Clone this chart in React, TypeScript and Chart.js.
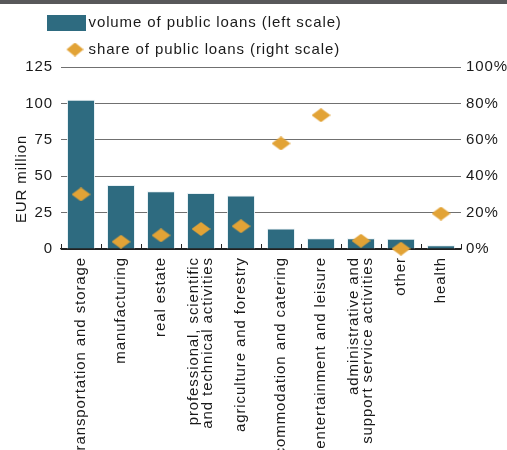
import React, { useEffect, useRef } from 'react';
import { Chart, registerables } from 'chart.js';

Chart.register(...registerables);

const categories: (string | string[])[] = [
  'transportation and storage',
  'manufacturing',
  'real estate',
  ['professional, scientific', 'and technical activities'],
  'agriculture and forestry',
  'accommodation and catering',
  'entertainment and leisure',
  ['administrative and', 'support service activities'],
  'other',
  'health',
];
const volumeValues = [102.5, 44, 39.6, 38.5, 36.8, 14, 7.4, 7.4, 7, 2.5];
const shareValues = [30, 4, 7.5, 11, 12.5, 58, 73.5, 4.5, 0.2, 19.5];
const leftTicks = [0, 25, 50, 75, 100, 125];
const rightTicks = [0, 20, 40, 60, 80, 100];
const seriesNames = ['volume of public loans (left scale)', 'share of public loans (right scale)'];
const yTitle = 'EUR million';

const BAR_COLOR = '#2e6b80';
const DIAMOND_COLOR = '#e2a336';
const TEXT_COLOR = '#1a1a1a';
const FONT = "'Liberation Sans', Arial, sans-serif";
const SPACING = '0.9px';

function makeDiamond(total: number, w: number, h: number, offset: number, color: string) {
  const c = document.createElement('canvas');
  c.width = total;
  c.height = h;
  const g = c.getContext('2d')!;
  g.fillStyle = color;
  g.beginPath();
  g.moveTo(offset, h / 2);
  g.lineTo(offset + w / 2, 0);
  g.lineTo(offset + w, h / 2);
  g.lineTo(offset + w / 2, h);
  g.closePath();
  g.fill();
  return c;
}

function makeRect(total: number, w: number, h: number, offset: number, color: string) {
  const c = document.createElement('canvas');
  c.width = total;
  c.height = h;
  const g = c.getContext('2d')!;
  g.fillStyle = color;
  g.fillRect(offset, 0, w, h);
  return c;
}

export default function App() {
  const ref = useRef<HTMLCanvasElement>(null);

  useEffect(() => {
    const canvas = ref.current;
    if (!canvas) return;

    const pointDiamond = makeDiamond(19, 19, 14, 0, DIAMOND_COLOR);
    const legendDiamond = makeDiamond(74, 17, 14, 57, DIAMOND_COLOR);
    const legendSwatch = makeRect(79, 39, 16, 40, BAR_COLOR);

    const spacingPlugin = {
      id: 'spacing',
      beforeUpdate(chart: any) {
        chart.ctx.letterSpacing = SPACING;
      },
      beforeDraw(chart: any) {
        chart.ctx.letterSpacing = SPACING;
      },
    };

    const yTitlePlugin = {
      id: 'yTitle',
      afterDraw(chart: any) {
        const ctx = chart.ctx;
        const area = chart.chartArea;
        ctx.save();
        ctx.font = `15px ${FONT}`;
        ctx.fillStyle = TEXT_COLOR;
        ctx.textAlign = 'center';
        ctx.textBaseline = 'middle';
        ctx.translate(22, (area.top + area.bottom) / 2 + 21);
        ctx.rotate(-Math.PI / 2);
        ctx.fillText(yTitle, 0, 0);
        ctx.restore();
      },
    };

    const chart = new Chart(canvas, {
      type: 'bar',
      data: {
        labels: categories,
        datasets: [
          {
            type: 'bar',
            label: seriesNames[0],
            data: volumeValues,
            backgroundColor: BAR_COLOR,
            borderColor: 'rgba(230,240,244,0.9)',
            borderWidth: 1,
            barPercentage: 0.7,
            categoryPercentage: 1.0,
            yAxisID: 'y',
            order: 1,
          } as any,
          {
            type: 'line',
            label: seriesNames[1],
            data: shareValues,
            showLine: false,
            pointStyle: pointDiamond,
            pointRadius: 9,
            backgroundColor: DIAMOND_COLOR,
            borderColor: DIAMOND_COLOR,
            yAxisID: 'y1',
            clip: false,
            order: 0,
          } as any,
        ],
      },
      options: {
        responsive: false,
        animation: false,
        maintainAspectRatio: false,
        font: { family: FONT },
        color: TEXT_COLOR,
        layout: { padding: { top: 3, left: 0, right: 0, bottom: 0 } },
        plugins: {
          tooltip: { enabled: false },
          legend: {
            position: 'top',
            align: 'start',
            labels: {
              usePointStyle: true,
              pointStyleWidth: 69,
              padding: 12,
              color: TEXT_COLOR,
              font: { family: FONT, size: 15 },
              generateLabels: (ch: any) =>
                ch.data.datasets.map((ds: any, i: number) => ({
                  text: ds.label,
                  fillStyle: i === 0 ? BAR_COLOR : DIAMOND_COLOR,
                  strokeStyle: 'transparent',
                  lineWidth: 0,
                  pointStyle: i === 0 ? legendSwatch : legendDiamond,
                  hidden: false,
                  datasetIndex: i,
                  fontColor: TEXT_COLOR,
                })),
            },
          },
        },
        scales: {
          x: {
            type: 'category',
            offset: true,
            grid: {
              offset: true,
              drawOnChartArea: false,
              drawTicks: true,
              tickLength: -5,
              color: '#222',
              lineWidth: 1,
            },
            border: { display: true, color: '#222', width: 1.3 },
            ticks: {
              autoSkip: false,
              maxRotation: 90,
              minRotation: 90,
              padding: 13,
              labelOffset: -7,
              showLabelBackdrop: (c: any) => !Array.isArray(categories[c.index]),
              backdropColor: 'rgba(0,0,0,0)',
              backdropPadding: 0,
              color: TEXT_COLOR,
              font: { family: FONT, size: 15, lineHeight: '14px' },
            },
            afterFit: (s: any) => {
              s.height = 231;
            },
          },
          y: {
            position: 'left',
            min: leftTicks[0],
            max: leftTicks[leftTicks.length - 1],
            ticks: {
              stepSize: leftTicks[1] - leftTicks[0],
              padding: 8,
              color: TEXT_COLOR,
              font: { family: FONT, size: 15 },
            },
            grid: {
              color: (c: any) => (c.tick && c.tick.value === 0 ? '#222' : '#707070'),
              drawTicks: false,
              lineWidth: 1,
            },
            border: { display: false },
            afterFit: (s: any) => {
              s.width = 61;
            },
          },
          y1: {
            position: 'right',
            min: rightTicks[0],
            max: rightTicks[rightTicks.length - 1],
            ticks: {
              stepSize: rightTicks[1] - rightTicks[0],
              padding: 5,
              color: TEXT_COLOR,
              font: { family: FONT, size: 15 },
              callback: (v: any) => `${v}%`,
            },
            grid: { display: false, drawTicks: false },
            border: { display: false },
            afterFit: (s: any) => {
              s.width = 46;
            },
          },
        },
      } as any,
      plugins: [spacingPlugin, yTitlePlugin],
    });

    return () => chart.destroy();
  }, []);

  return (
    <div
      style={{
        position: 'fixed',
        left: 0,
        top: 0,
        width: 507,
        height: 450,
        overflow: 'hidden',
        background: '#fff',
      }}
    >
      <canvas
        ref={ref}
        width={507}
        height={480}
        style={{ position: 'absolute', left: 0, top: 0, width: 507, height: 480 }}
      />
      <div
        style={{
          position: 'absolute',
          left: 0,
          top: 0,
          width: 507,
          height: 4,
          background: '#58585a',
        }}
      />
    </div>
  );
}
